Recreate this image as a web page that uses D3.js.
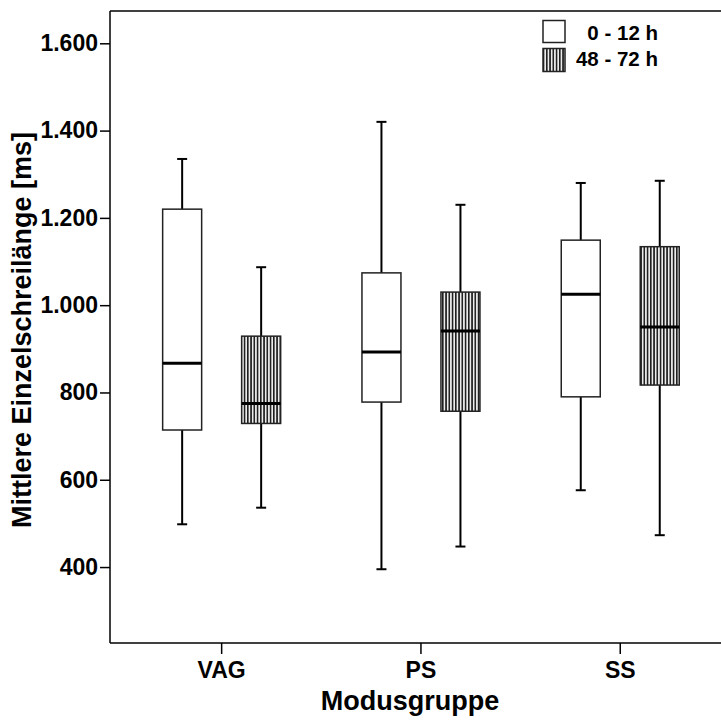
<!DOCTYPE html>
<html><head><meta charset="utf-8">
<script src="https://cdn.jsdelivr.net/npm/d3@7"></script>
<style>body{margin:0;background:#fff}svg{display:block}text{font-family:"Liberation Sans",Arial,sans-serif;font-weight:bold;fill:#000}</style>
</head><body><svg id="c" width="721" height="722"></svg>
<script>
const categories = ["VAG", "PS", "SS"];
const seriesNames = ["0 - 12 h", "48 - 72 h"];
// [whiskerLow, q1, median, q3, whiskerHigh]
const early = [[498, 714, 867, 1220, 1335], [395, 778, 893, 1074, 1420], [576, 790, 1025, 1149, 1280]];
const late  = [[536, 729, 775, 929, 1087], [447, 757, 941, 1030, 1230], [473, 817, 950, 1134, 1285]];
const yTicks = [400, 600, 800, 1000, 1200, 1400, 1600];
const yTickLabels = ["400", "600", "800", "1.000", "1.200", "1.400", "1.600"];

const svg = d3.select("#c");
const L = 110, R = 721, T = 11, B = 643;
const y = d3.scaleLinear().domain([226, 1674]).range([B, T]);
const x = d3.scaleBand().domain(categories).range([L + 12, L + 12 + 3 * 199.3]).paddingInner(0).paddingOuter(0);
const sub = d3.scaleBand().domain(seriesNames).range([-79, 79]);

const defs = svg.append("defs");
const pat = defs.append("pattern").attr("id", "hatch").attr("patternUnits", "userSpaceOnUse")
  .attr("width", 3.25).attr("height", 10);
pat.append("rect").attr("width", 3.25).attr("height", 10).attr("fill", "#ececec");
pat.append("line").attr("x1", 0.8).attr("x2", 0.8).attr("y1", 0).attr("y2", 10).attr("stroke", "#111").attr("stroke-width", 1.5);

// frame
svg.append("line").attr("x1", L).attr("x2", R).attr("y1", T).attr("y2", T).attr("stroke", "#000").attr("stroke-width", 1.5);
svg.append("line").attr("x1", L).attr("x2", R).attr("y1", B).attr("y2", B).attr("stroke", "#000").attr("stroke-width", 1.5);
svg.append("line").attr("x1", L).attr("x2", L).attr("y1", T).attr("y2", B).attr("stroke", "#000").attr("stroke-width", 1.5);

// y axis
const yAxis = d3.axisLeft(y).tickValues(yTicks).tickSize(10).tickPadding(2)
  .tickFormat((d, i) => yTickLabels[i]);
const gy = svg.append("g").attr("transform", `translate(${L},0)`).call(yAxis);
gy.select(".domain").remove();
gy.selectAll("line").attr("stroke", "#000").attr("stroke-width", 1.5);
gy.selectAll("text").attr("font-size", 23).attr("font-family", "Liberation Sans, Arial, sans-serif").attr("font-weight", "bold").attr("fill", "#000");

// x axis
const xAxis = d3.axisBottom(x).tickSize(11).tickPadding(8);
const gx = svg.append("g").attr("transform", `translate(0,${B})`).call(xAxis);
gx.select(".domain").remove();
gx.selectAll("line").attr("stroke", "#000").attr("stroke-width", 1.5);
gx.selectAll("text").attr("font-size", 23).attr("font-family", "Liberation Sans, Arial, sans-serif").attr("font-weight", "bold").attr("fill", "#000");

// boxes
const boxW = 39;
function drawBox(g, cx, d, hatched) {
  const [lo, q1, med, q3, hi] = d;
  g.append("line").attr("x1", cx).attr("x2", cx).attr("y1", y(hi)).attr("y2", y(q3)).attr("stroke", "#000").attr("stroke-width", 2);
  g.append("line").attr("x1", cx).attr("x2", cx).attr("y1", y(q1)).attr("y2", y(lo)).attr("stroke", "#000").attr("stroke-width", 2);
  g.append("line").attr("x1", cx - 5).attr("x2", cx + 5).attr("y1", y(hi)).attr("y2", y(hi)).attr("stroke", "#000").attr("stroke-width", 2);
  g.append("line").attr("x1", cx - 5).attr("x2", cx + 5).attr("y1", y(lo)).attr("y2", y(lo)).attr("stroke", "#000").attr("stroke-width", 2);
  g.append("rect").attr("x", cx - boxW / 2).attr("y", y(q3)).attr("width", boxW).attr("height", y(q1) - y(q3))
    .attr("fill", hatched ? "url(#hatch)" : "#fff").attr("stroke", "#222").attr("stroke-width", 1.5);
  g.append("line").attr("x1", cx - boxW / 2).attr("x2", cx + boxW / 2).attr("y1", y(med)).attr("y2", y(med)).attr("stroke", "#000").attr("stroke-width", 3);
}
const gb = svg.append("g");
categories.forEach((c, i) => {
  const cx = x(c) + x.bandwidth() / 2;
  drawBox(gb, cx + sub(seriesNames[0]) + sub.bandwidth() / 2, early[i], false);
  drawBox(gb, cx + sub(seriesNames[1]) + sub.bandwidth() / 2, late[i], true);
});

// legend
const leg = svg.append("g");
leg.append("rect").attr("x", 543).attr("y", 20.5).attr("width", 22).attr("height", 22).attr("fill", "#fff").attr("stroke", "#222").attr("stroke-width", 1.5);
leg.append("rect").attr("x", 543).attr("y", 48.5).attr("width", 22).attr("height", 23).attr("fill", "url(#hatch)").attr("stroke", "#222").attr("stroke-width", 1.5);
leg.append("text").attr("x", 658).attr("y", 40).attr("text-anchor", "end").attr("font-size", 20.5).text(seriesNames[0]);
leg.append("text").attr("x", 658).attr("y", 66).attr("text-anchor", "end").attr("font-size", 20.5).text(seriesNames[1]);

// titles
svg.append("text").attr("x", 410).attr("y", 710).attr("text-anchor", "middle").attr("font-size", 27).text("Modusgruppe");
svg.append("text").attr("transform", "translate(31,330) rotate(-90)").attr("text-anchor", "middle").attr("font-size", 27).text("Mittlere Einzelschreilänge [ms]");
</script></body></html>
